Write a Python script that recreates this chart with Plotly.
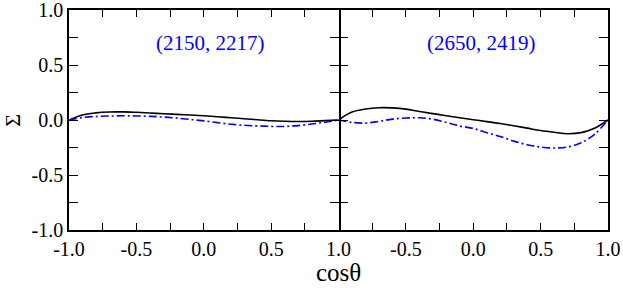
import plotly.graph_objects as go

cos_theta = [-1.0, -0.9, -0.8, -0.7, -0.6, -0.5, -0.4, -0.3, -0.2, -0.1, 0.0,
             0.1, 0.2, 0.3, 0.4, 0.5, 0.6, 0.7, 0.8, 0.9, 1.0]

# Panel (2150, 2217)
left_solid = [0.0, 0.046, 0.065, 0.073, 0.074, 0.070, 0.064, 0.057, 0.051, 0.045, 0.038,
              0.030, 0.021, 0.012, 0.002, -0.007, -0.012, -0.014, -0.012, -0.006, 0.0]
left_dashdot = [0.0, 0.022, 0.032, 0.036, 0.038, 0.037, 0.033, 0.027, 0.017, 0.005, -0.008,
                -0.024, -0.038, -0.048, -0.054, -0.058, -0.059, -0.051, -0.037, -0.020, 0.0]

# Panel (2650, 2419)
right_solid = [0.0, 0.072, 0.100, 0.112, 0.110, 0.099, 0.077, 0.058, 0.039, 0.021, 0.003,
               -0.015, -0.032, -0.052, -0.074, -0.096, -0.112, -0.125, -0.115, -0.075, 0.0]
right_dashdot = [0.0, -0.022, -0.028, -0.012, 0.008, 0.018, 0.020, 0.007, -0.022, -0.055, -0.077,
                 -0.115, -0.150, -0.192, -0.225, -0.246, -0.254, -0.245, -0.207, -0.130, 0.0]

panel_labels = ["(2150, 2217)", "(2650, 2419)"]

tick_vals = [-1.0, -0.75, -0.5, -0.25, 0.0, 0.25, 0.5, 0.75, 1.0]
tick_text = ["-1.0", "", "-0.5", "", "0.0", "", "0.5", "", "1.0"]
tick_text_right = ["", "", "-0.5", "", "0.0", "", "0.5", "", "1.0"]

FONT = "Liberation Serif"
BLUE = "#0000ff"
DASHDOT = "8px,3px,2px,3px"

fig = go.Figure()
fig.add_trace(go.Scatter(x=cos_theta, y=left_solid, mode="lines",
                         line=dict(color="black", width=1.6, shape="spline"),
                         xaxis="x", yaxis="y", showlegend=False))
fig.add_trace(go.Scatter(x=cos_theta, y=left_dashdot, mode="lines",
                         line=dict(color=BLUE, width=1.6, shape="spline", dash=DASHDOT),
                         xaxis="x", yaxis="y", showlegend=False))
fig.add_trace(go.Scatter(x=cos_theta, y=right_solid, mode="lines",
                         line=dict(color="black", width=1.6, shape="spline"),
                         xaxis="x2", yaxis="y2", showlegend=False))
fig.add_trace(go.Scatter(x=cos_theta, y=right_dashdot, mode="lines",
                         line=dict(color=BLUE, width=1.6, shape="spline", dash=DASHDOT),
                         xaxis="x2", yaxis="y2", showlegend=False))
# invisible trace so the right-border axis is drawn
fig.add_trace(go.Scatter(x=[None], y=[None], xaxis="x2", yaxis="y3", showlegend=False, hoverinfo="skip"))

tickfont = dict(family=FONT, size=20, color="black")
common_x = dict(range=[-1, 1], tickvals=tick_vals, ticks="inside", ticklen=7, tickwidth=1.3,
                tickcolor="black", showline=True, linecolor="black", linewidth=1.5, mirror="ticks",
                showgrid=False, zeroline=False, tickfont=tickfont, automargin=False,
                ticklabeloverflow="allow")
common_y = dict(range=[-1, 1], tickvals=tick_vals, ticktext=tick_text, ticks="inside", ticklen=9,
                tickwidth=1.3, tickcolor="black", linecolor="black", linewidth=1.5,
                showgrid=False, zeroline=False, tickfont=tickfont, automargin=False,
                ticklabeloverflow="allow")

fig.update_layout(
    width=623, height=288,
    margin=dict(l=69, r=15, t=10, b=58),
    paper_bgcolor="white", plot_bgcolor="white",
    font=dict(family=FONT, color="black"),
    xaxis=dict(domain=[0, 0.5], anchor="y", ticktext=tick_text, **common_x),
    xaxis2=dict(domain=[0.5, 1], anchor="y2", ticktext=tick_text_right, **common_x),
    # left panel: left line + mirrored ticks/line at the shared border
    yaxis=dict(anchor="x", showline=True, mirror="ticks", **common_y),
    # right panel: ticks at the shared border only (no extra line)
    yaxis2=dict(anchor="x2", side="left", showline=False, mirror=False, showticklabels=False, **common_y),
    # right panel: right border with inside ticks
    yaxis3=dict(anchor="x2", overlaying="y2", side="right", showline=True, mirror=False,
                showticklabels=False, **common_y),
    annotations=[
        dict(text=panel_labels[0], x=0.05, y=0.70, xref="x", yref="y", showarrow=False,
             font=dict(family=FONT, size=21, color=BLUE)),
        dict(text=panel_labels[1], x=0.063, y=0.70, xref="x2", yref="y2", showarrow=False,
             font=dict(family=FONT, size=21, color=BLUE)),
        dict(text="cosθ", x=0.5, y=0, xref="paper", yref="paper", yshift=-42, yanchor="middle",
             showarrow=False, font=dict(family=FONT, size=25, color="black")),
        dict(text="Σ", x=-0.106, y=0.5, xref="paper", yref="paper", textangle=-90,
             xanchor="center", yanchor="middle", showarrow=False,
             font=dict(family=FONT, size=22, color="black")),
    ],
)

fig.write_html("out.html", config={"displayModeBar": False},
               post_script="document.body.style.margin='0';document.body.style.overflow='hidden';")
